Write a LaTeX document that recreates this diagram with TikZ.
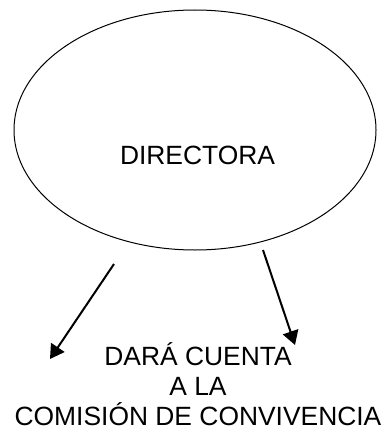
\documentclass[tikz,border=0pt]{standalone}
\usepackage{fontspec}
\setmainfont{Liberation Sans}
\usetikzlibrary{shapes.geometric,arrows.meta}
\begin{document}
\begin{tikzpicture}[x=1pt,y=-1pt,
  bigtext/.style={font=\fontsize{26.4}{30}\selectfont, inner sep=0pt},
  oval/.style={draw, ellipse, line width=1pt, minimum width=362pt, minimum height=240pt, inner sep=0pt},
  conn/.style={line width=2pt, -{Triangle[length=14pt,width=16pt]}}]
\useasboundingbox (0,0) rectangle (384,428);
\node[oval] (dir) at (195,130) {};
\node[bigtext] (dirt) at (197.5,155) {DIRECTORA};
\node[bigtext, align=center, anchor=south] (cuenta) at (198,425.5) {DARÁ CUENTA\\A LA\\COMISIÓN DE CONVIVENCIA};
\coordinate (s1) at (114,264);
\coordinate (e1) at (50,359);
\coordinate (s2) at (263,250);
\coordinate (e2) at (295,345);
\draw[conn] (s1) -- (e1);
\draw[conn] (s2) -- (e2);
\end{tikzpicture}
\end{document}
